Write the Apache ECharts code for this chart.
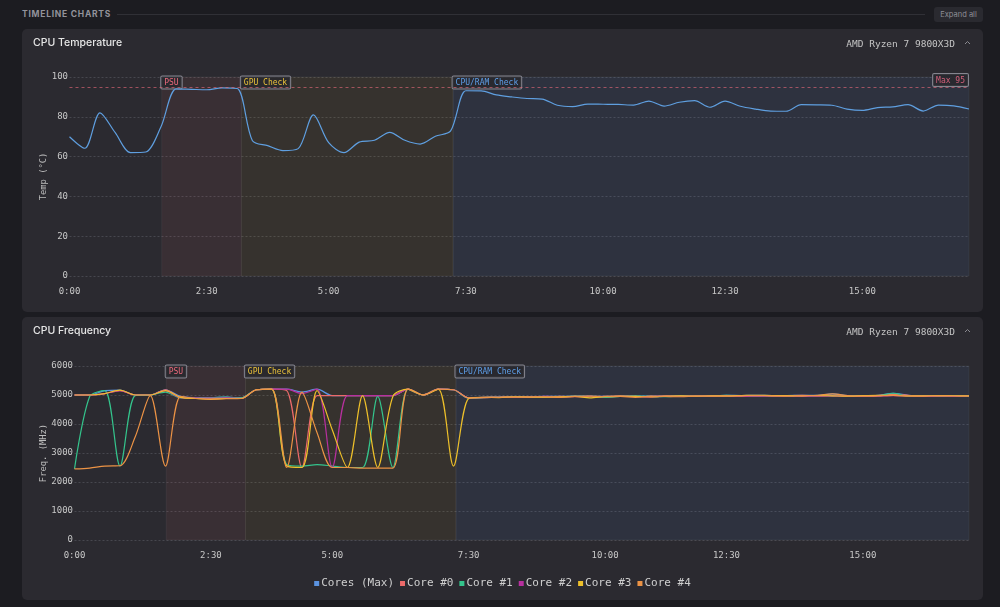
<!DOCTYPE html>
<html><head><meta charset="utf-8">
<script src="https://cdn.jsdelivr.net/npm/echarts@6/dist/echarts.min.js"></script>
<style>
html,body{margin:0;padding:0;background:#1c1c21;width:1000px;height:607px;overflow:hidden;font-family:Inter,'Noto Sans',sans-serif;}
.hdr{position:absolute;left:22px;top:8px;font-size:8.5px;font-weight:700;letter-spacing:0.75px;color:#93939b;line-height:12px;}
.rule{position:absolute;left:117px;top:14px;width:808px;height:1px;background:#303036;}
.btn{position:absolute;left:934px;top:7px;width:49px;height:15px;background:#2a2a30;border-radius:3px;color:#8e8e96;font-size:7.5px;line-height:15px;text-align:center;}
.panel{position:absolute;left:22px;width:961px;height:283px;background:#2b2a30;border-radius:5px;}
.chart{position:absolute;left:0;top:0;width:961px;height:283px;}
.title{position:absolute;left:11px;top:7px;font-size:10.5px;color:#e6e6e6;font-weight:500;line-height:14px;}
.cpu{position:absolute;right:28px;top:7.5px;font-family:'DejaVu Sans Mono',monospace;font-size:9.5px;color:#c4c4c4;line-height:14px;}
.chev{position:absolute;right:12px;top:11px;width:7px;height:5px;}
</style></head>
<body>
<div class="hdr">TIMELINE CHARTS</div>
<div class="rule"></div>
<div class="btn">Expand all</div>

<div class="panel" style="top:29px">
  <div id="c1" class="chart"></div>
  <div class="title">CPU Temperature</div>
  <div class="cpu">AMD Ryzen 7 9800X3D</div>
  <svg class="chev" viewBox="0 0 7 5"><polyline points="1,4 3.5,1.5 6,4" fill="none" stroke="#8a8a90" stroke-width="1"/></svg>
</div>
<div class="panel" style="top:317px">
  <div id="c2" class="chart"></div>
  <div class="title">CPU Frequency</div>
  <div class="cpu">AMD Ryzen 7 9800X3D</div>
  <svg class="chev" viewBox="0 0 7 5"><polyline points="1,4 3.5,1.5 6,4" fill="none" stroke="#8a8a90" stroke-width="1"/></svg>
</div>

<script>
// ---- data ----
const lastIndex = 59;
const xTickIndex = [0, 9, 17, 26, 35, 43, 52];
const xTickLabels = ['0:00', '2:30', '5:00', '7:30', '10:00', '12:30', '15:00'];

const phaseNames = ['PSU', 'GPU Check', 'CPU/RAM Check'];
const phaseStart = [6.05, 11.27, 25.16];
const phaseEnd = [11.27, 25.16, 59];

const tempMax = 95;
const cpuTemp = [70, 64.2, 82, 72, 62, 62.3, 75, 94, 93.8, 93.6,
  94.5, 94.2, 68, 65.5, 63, 64, 81, 67, 62, 67.3,
  68.2, 72.2, 68.2, 66.3, 70.2, 72.9, 93.1, 93, 91, 90,
  89.2, 88.9, 85.8, 85.1, 86.4, 86.3, 86.2, 85.9, 87.9, 85.4,
  87.3, 88.1, 84.8, 87.9, 85.3, 83.9, 82.9, 82.8, 86.1, 86,
  85.8, 83.9, 83.2, 84.6, 85, 86.1, 82.9, 85.9, 85.5, 83.9];

const freqSeriesNames = ['Cores (Max)', 'Core #0', 'Core #1', 'Core #2', 'Core #3', 'Core #4'];
const coresMax = [5000,5000,5150,5170,5000,5000,5180,4950,4910,4900,
  4930,4900,5180,5200,5200,5100,5200,4980,4980,4980,
  4980,4980,5200,5000,5200,5180,4900,4920,4930,4940,
  4940,4950,4950,4960,4960,4950,4960,4960,4960,4960,
  4970,4960,4970,4990,4980,4990,4980,4980,4990,4990,
  5040,4980,4980,4990,5060,4990,4970,4980,4975,4970];
const core0 = [5000,5000,5050,5150,5000,5000,5180,4920,4900,4880,
  4900,4890,5180,5200,5150,2500,4980,4980,4980,4980,
  4980,4980,5200,5000,5200,5180,4900,4920,4930,4920,
  4940,4930,4950,4940,4950,4930,4960,4950,4930,4960,
  4970,4950,4960,4980,4960,4970,4960,4980,4990,4970,
  4980,4960,4970,4980,5020,4990,4960,4970,4960,4960];
const core1 = [2450,4950,5150,2550,4980,5000,5100,4900,4910,4900,
  4930,4900,5180,5200,2600,2550,2600,2550,2500,2500,
  4950,2500,5200,5000,5200,5180,4890,4910,4930,4940,
  4920,4940,4930,4960,4940,4920,4950,4960,4950,4940,
  4960,4950,4970,4990,4970,4960,4980,4970,4960,4980,
  4970,4980,4960,4970,5060,4960,4960,4950,4970,4960];
const core2 = [5000,5000,5050,5150,5000,5000,5150,4910,4900,4890,
  4900,4880,5180,5200,5200,5050,5200,2500,4980,4980,
  4980,4980,5200,5000,5200,5180,4900,4910,4920,4930,
  4930,4950,4940,4950,4940,4950,4960,4940,4950,4960,
  4950,4960,4960,4970,4950,4960,4970,4960,4950,4960,
  4970,4960,4950,4960,4980,4970,4950,4960,4955,4965];
const core3 = [5000,5000,5050,5170,5000,5000,5150,4920,4880,4850,
  4880,4880,5180,5200,2550,2500,5150,3800,2500,4980,
  2500,4950,5200,5000,5200,2550,4880,4920,4910,4940,
  4930,4930,4940,4950,4900,4950,4960,4950,4940,4960,
  4970,4960,4970,4970,4980,4990,4980,4980,4970,4980,
  4970,4960,4980,4990,4990,4970,4970,4980,4975,4970];
const core4 = [2450,2480,2550,2560,3550,4980,2550,4950,4880,4860,
  4870,4880,5180,5200,2500,5100,3700,2500,2500,2480,
  2480,2480,5200,5000,5200,5180,4900,4910,4920,4930,
  4930,4940,4920,4950,4960,4940,4950,4920,4960,4950,
  4940,4960,4960,4960,4970,4980,4970,4960,4980,4990,
  5040,4980,4960,4970,4990,4970,4960,4970,4965,4965];

// ---- styles ----
const mono = 'DejaVu Sans Mono';
const phaseFill = ['rgba(248,113,113,0.07)', 'rgba(250,204,21,0.053)', 'rgba(96,165,250,0.075)'];
const phaseText = ['#ec6a7c', '#e9c23a', '#5e9fe8'];
const freqColors = ['#5b93e0', '#ec6a6a', '#34c48c', '#b8309f', '#eec02a', '#ec9345'];

function pairs(arr) { return arr.map((v, i) => [i, v]); }

function xAxisOpt() {
  return {
    type: 'value', min: 0, max: lastIndex,
    splitLine: { show: false }, axisLine: { show: false }, axisTick: { show: false },
    axisLabel: {
      customValues: xTickIndex,
      formatter: v => { const k = xTickIndex.indexOf(Math.round(v)); return k >= 0 ? xTickLabels[k] : ''; },
      color: '#c8c8c8', fontSize: 9, fontFamily: mono, margin: 11
    }
  };
}
function yAxisOpt(name, max, interval, gap) {
  return {
    type: 'value', min: 0, max: max, interval: interval,
    name: name, nameLocation: 'middle', nameGap: gap, nameMoveOverlap: false,
    nameTextStyle: { color: '#bdbdbd', fontSize: 8.8, fontFamily: mono },
    axisLine: { show: false }, axisTick: { show: false },
    axisLabel: { color: '#c8c8c8', fontSize: 9, fontFamily: mono, margin: 1.5, formatter: v => String(v) },
    splitLine: { lineStyle: { color: '#47474e', type: [2, 2], width: 1 } }
  };
}
function markAreaOpt() {
  return {
    silent: true,
    data: phaseNames.map((n, k) => [
      {
        name: n, xAxis: phaseStart[k],
        itemStyle: { color: phaseFill[k], borderColor: 'rgba(255,255,255,0.05)', borderWidth: 1 },
        label: { color: phaseText[k] }
      },
      { xAxis: phaseEnd[k] }
    ]),
    label: {
      show: true, position: 'insideTopLeft', distance: 0,
      fontFamily: mono, fontSize: 8, lineHeight: 9,
      padding: [2, 3, 1, 3], borderColor: '#85858f', borderWidth: 1, borderRadius: 1,
      backgroundColor: 'rgba(40,40,46,0.85)'
    }
  };
}

const c1 = echarts.init(document.getElementById('c1'));
c1.setOption({
  animation: false,
  textStyle: { fontFamily: mono },
  grid: { left: 47.5, right: 14, top: 48, bottom: 36, outerBoundsMode: 'none' },
  xAxis: xAxisOpt(),
  yAxis: yAxisOpt('Temp (°C)', 100, 20, 21.5),
  series: [{
    name: 'CPU', type: 'line', data: pairs(cpuTemp),
    showSymbol: false, smooth: 0.3,
    lineStyle: { color: '#5f9fe0', width: 1.2 },
    markArea: markAreaOpt(),
    markLine: {
      silent: true, symbol: 'none',
      data: [{ yAxis: tempMax, name: 'Max ' + tempMax }],
      lineStyle: { color: 'rgba(236,106,124,0.6)', type: [3, 3], width: 1 },
      label: {
        position: 'insideEndTop', distance: 1, formatter: '{b}',
        color: '#d2607a', fontFamily: mono, fontSize: 8, lineHeight: 9,
        padding: [2, 3, 1, 3], borderColor: '#85858f', borderWidth: 1, borderRadius: 1,
        backgroundColor: 'rgba(40,40,46,0.85)'
      }
    }
  }]
});

const freqData = [coresMax, core0, core1, core2, core3, core4];
const c2 = echarts.init(document.getElementById('c2'));
c2.setOption({
  animation: false,
  textStyle: { fontFamily: mono },
  grid: { left: 52.5, right: 14, top: 49, bottom: 60, outerBoundsMode: 'none' },
  legend: {
    top: 256, left: 'center', icon: 'rect', itemWidth: 5, itemHeight: 5, itemGap: 6,
    data: freqSeriesNames,
    textStyle: { color: '#cfcfcf', fontSize: 11, fontFamily: mono, padding: [0, 0, 0, -3] }
  },
  xAxis: xAxisOpt(),
  yAxis: yAxisOpt('Freq. (MHz)', 6000, 1000, 26.5),
  series: freqSeriesNames.map((n, k) => ({
    name: n, type: 'line', data: pairs(freqData[k]),
    showSymbol: false, smooth: 0.3,
    color: freqColors[k],
    lineStyle: { color: freqColors[k], width: 1.2 },
    markArea: k === 0 ? markAreaOpt() : undefined
  }))
});
</script>
</body></html>
